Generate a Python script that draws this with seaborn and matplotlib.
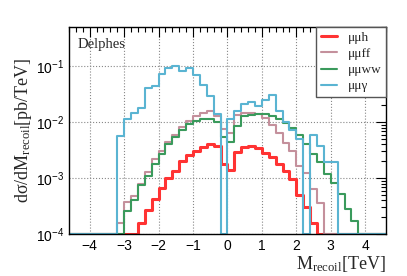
import seaborn as sns
import matplotlib.pyplot as plt
import numpy as np
import pandas as pd

# bin edges of the recoil mass histograms (0.2 TeV bins)
edges = np.round(np.arange(-4.6, 4.6001, 0.2), 2)
centers = (edges[:-1] + edges[1:]) / 2

# values per bin, bins from -4.6 .. 4.6 (46 bins), zeros outside the listed range
zeros7 = [0.0] * 7
mumuh = [0.0] * 10 + [1.6e-4, 2.7e-4, 4.3e-4, 6.7e-4, 9.9e-4, 1.33e-3, 2.0e-3, 2.6e-3,
                      3.1e-3, 3.6e-3, 4.0e-3, 3.7e-3, 1.8e-3, 1.4e-3, 2.9e-3, 3.6e-3,
                      3.8e-3, 3.4e-3, 2.8e-3, 2.4e-3, 1.8e-3, 1.35e-3, 9.5e-4, 5.0e-4,
                      3.0e-4, 1.6e-4] + [0.0] * 10
mumuff = zeros7 + [1.6e-4, 3.7e-4, 4.8e-4, 7.8e-4, 1.3e-3, 2.2e-3, 3.1e-3, 4.4e-3,
                   6.0e-3, 8.2e-3, 1.03e-2, 1.28e-2, 1.45e-2, 1.58e-2, 1.3e-2, 7.5e-3,
                   6.5e-3, 1.33e-2, 1.45e-2, 1.45e-2, 1.4e-2, 1.18e-2, 9.0e-3, 6.3e-3,
                   4.3e-3, 3.0e-3, 1.63e-3, 1.22e-3, 6.5e-4, 3.6e-4] + [0.0] * 9
mumuww = [0.0] * 8 + [2.6e-4, 4.1e-4, 7.6e-4, 1.1e-3, 1.75e-3, 2.75e-3, 4.1e-3, 5.5e-3,
                      7.2e-3, 9.1e-3, 1.05e-2, 1.15e-2, 1.15e-2, 1.0e-2, 5.5e-3, 4.5e-3,
                      8.5e-3, 1.28e-2, 1.35e-2, 1.4e-2, 1.38e-2, 1.28e-2, 1.12e-2, 9.5e-3,
                      7.7e-3, 6.0e-3, 4.1e-3, 2.7e-3, 1.9e-3, 1.2e-3, 8.3e-4, 5.1e-4,
                      2.8e-4, 1.7e-4] + [0.0] * 4
mumua = zeros7 + [5.6e-3, 1.12e-2, 1.47e-2, 1.76e-2, 4.0e-2, 4.5e-2, 7.1e-2, 9.1e-2,
                  9.9e-2, 8.1e-2, 9.4e-2, 6.9e-2, 4.7e-2, 2.9e-2, 1.38e-2, 0.0,
                  1.15e-2, 1.6e-2, 2.1e-2, 2.25e-2, 1.95e-2, 2.5e-2, 3.0e-2, 1.6e-2,
                  1.02e-2, 7.3e-3, 5.0e-3, 0.0, 5.8e-3, 3.7e-3, 1.9e-3, 1.9e-3] + [0.0] * 7

labels = ['μμh', 'μμff', 'μμww', 'μμγ']
colors = ['#ff3333', '#c4909c', '#3a9a5c', '#5ab4d2']
widths = [2.2, 1.5, 1.5, 1.5]

sns.set_style("white")
plt.rcParams['font.family'] = ['Liberation Sans', 'DejaVu Sans']
plt.rcParams['mathtext.fontset'] = 'custom'
plt.rcParams['mathtext.rm'] = 'Liberation Serif'
plt.rcParams['mathtext.it'] = 'Liberation Serif:italic'
serif = ['Liberation Serif', 'DejaVu Serif']

ymin = 1e-4
fig = plt.figure(figsize=(4.07, 2.76), dpi=100)
ax = fig.add_axes([0.1695, 0.152, 0.7785, 0.75])

for vals, lab, col, lw in zip([mumuh, mumuff, mumuww, mumua], labels, colors, widths):
    df = pd.DataFrame({'m': centers, 'w': np.maximum(vals, ymin)})
    sns.histplot(data=df, x='m', weights='w', binwidth=0.2, binrange=(-4.6, 4.6),
                 element='step', fill=False, color=col, linewidth=lw, label=lab, ax=ax)

ax.set_yscale('log')
ax.set_xlim(-4.6, 4.6)
ax.set_ylim(ymin, 0.5)
ax.set_xticks(np.arange(-4, 5, 1))
ax.set_xticks(np.arange(-4.6, 4.61, 0.2), minor=True)
ax.tick_params(which='both', direction='in', top=True, right=True, labelsize=10, colors='black')
ax.tick_params(which='major', length=7, width=0.8)
ax.tick_params(which='minor', length=3.5, width=0.8)
ax.grid(True, which='major', linestyle=':', color='#888888', linewidth=0.8)
for s in ax.spines.values():
    s.set_color('black')
    s.set_linewidth(1.0)

ax.set_ylabel('dσ/dM$_{\\mathrm{recoil}}$[pb/TeV]', family=serif, fontsize=13, labelpad=1)
ax.set_xlabel('M$_{\\mathrm{recoil}}$[TeV]', family=serif, fontsize=13, loc='right', labelpad=1)
ax.text(0.027, 0.915, 'Delphes', transform=ax.transAxes, family=serif, fontsize=10.5,
        va='center', ha='left')

leg = ax.legend(loc='upper right', bbox_to_anchor=(1.0, 1.0), borderaxespad=0,
                fancybox=False, framealpha=1, edgecolor='#555555', handlelength=1.2,
                prop={'family': serif, 'size': 9.5}, labelspacing=0.3, borderpad=0.35)
leg.get_frame().set_linewidth(1.0)

fig.savefig('out.png', dpi=100)
